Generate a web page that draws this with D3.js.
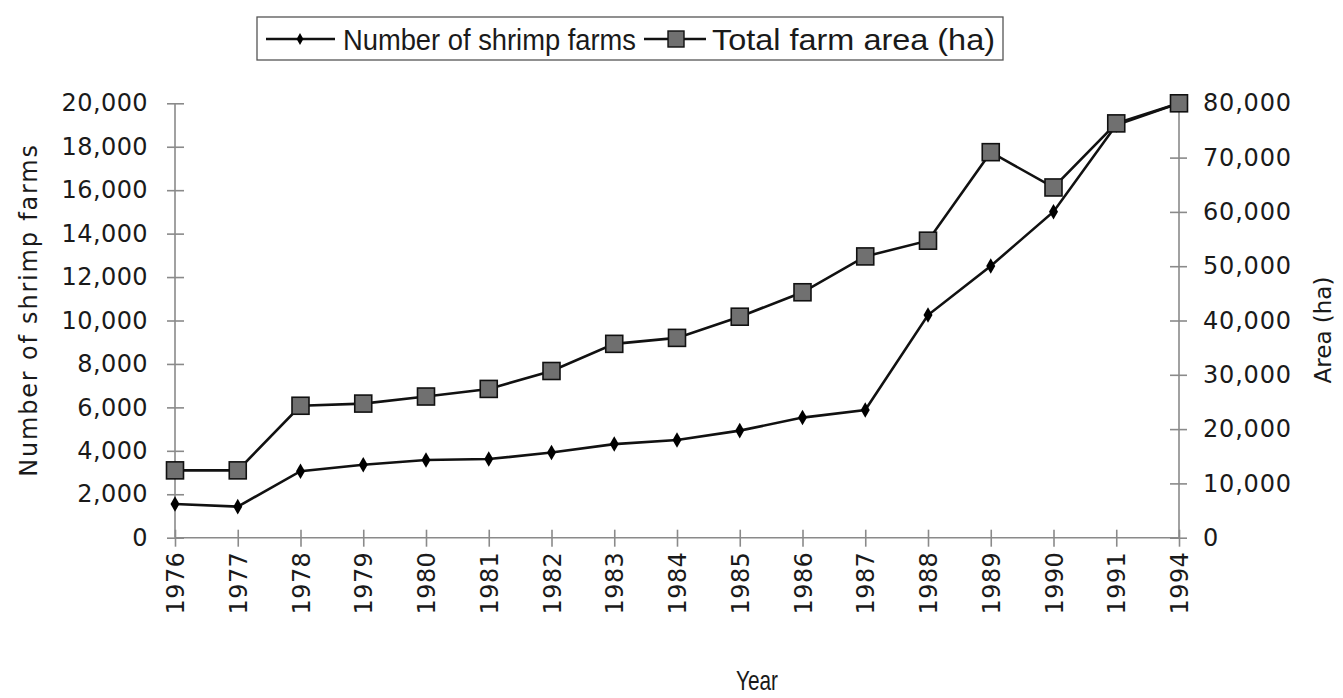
<!DOCTYPE html>
<html>
<head>
<meta charset="utf-8">
<script src="https://cdn.jsdelivr.net/npm/d3@7/dist/d3.min.js"></script>
<style>
  html, body { margin: 0; padding: 0; background: #fff; }
  svg { display: block; }
</style>
</head>
<body>
<svg id="chart" width="1343" height="698"></svg>
<script>
// Shrimp farming growth, 1976–1994
const years = ["1976","1977","1978","1979","1980","1981","1982","1983","1984",
               "1985","1986","1987","1988","1989","1990","1991","1994"];
const farmCounts = [1550, 1430, 3060, 3360, 3580, 3620, 3920, 4310, 4500,
                    4930, 5530, 5880, 10250, 12510, 15010, 19000, 20000];
const farmArea = [12400, 12400, 24300, 24700, 26000, 27400, 30700, 35700, 36800,
                  40700, 45200, 51800, 54700, 71000, 64500, 76300, 80000];
const leftTicks = [0, 2000, 4000, 6000, 8000, 10000, 12000, 14000, 16000, 18000, 20000];
const rightTicks = [0, 10000, 20000, 30000, 40000, 50000, 60000, 70000, 80000];
const seriesNames = ["Number of shrimp farms", "Total farm area (ha)"];

const svg = d3.select("#chart");
const plot = { left: 175, right: 1179, top: 103.3, bottom: 537.7 };
const axisColor = "#8a8a8a";
const tickFont = "'DejaVu Sans', Verdana, sans-serif";
const narrowFont = "'Liberation Sans Narrow', 'Arial Narrow', 'Liberation Sans', Arial, sans-serif";

const x = d3.scalePoint().domain(years).range([plot.left, plot.right]);
const yL = d3.scaleLinear().domain([0, 20000]).range([plot.bottom, plot.top]);
const yR = d3.scaleLinear().domain([0, 80000]).range([plot.bottom, plot.top]);
const fmt = d3.format(",");

// ---- axes ----
const gLeft = svg.append("g")
  .attr("transform", `translate(${plot.left},0)`)
  .call(d3.axisLeft(yL).tickValues(leftTicks).tickFormat(fmt).tickSize(8));
gLeft.selectAll(".tick line").attr("x1", -8).attr("x2", 9);
gLeft.selectAll(".tick text").attr("x", -27)
  .style("font-family", tickFont).style("font-size", "24px")
  .style("letter-spacing", "0.4px").attr("fill", "#1a1a1a");

const gRight = svg.append("g")
  .attr("transform", `translate(${plot.right},0)`)
  .call(d3.axisRight(yR).tickValues(rightTicks).tickFormat(fmt).tickSize(8));
gRight.selectAll(".tick line").attr("x1", -9).attr("x2", 8);
gRight.selectAll(".tick text").attr("x", 24)
  .style("font-family", tickFont).style("font-size", "24px")
  .style("letter-spacing", "0.8px").attr("fill", "#1a1a1a");

const gBottom = svg.append("g")
  .attr("transform", `translate(0,${plot.bottom})`)
  .call(d3.axisBottom(x).tickSize(8));
gBottom.selectAll(".tick line").attr("y1", -8).attr("y2", 9);
gBottom.selectAll(".tick text")
  .attr("transform", "translate(0,14) rotate(-90)")
  .attr("x", 0).attr("y", 0).attr("dy", "0.36em")
  .style("text-anchor", "end")
  .style("font-family", tickFont).style("font-size", "24px")
  .style("letter-spacing", "0.4px").attr("fill", "#1a1a1a");

[gLeft, gRight, gBottom].forEach(g => {
  g.select(".domain").attr("stroke", axisColor).attr("stroke-width", 1.6);
  g.selectAll(".tick line").attr("stroke", axisColor).attr("stroke-width", 1.6);
});
// plain axis lines without end caps
gLeft.select(".domain").attr("d", `M0,${plot.top}V${plot.bottom}`);
gRight.select(".domain").attr("d", `M0,${plot.top}V${plot.bottom}`);
gBottom.select(".domain").attr("d", `M${plot.left},0H${plot.right}`);

// ---- axis titles ----
svg.append("text")
  .attr("transform", `translate(37,310) rotate(-90)`)
  .attr("text-anchor", "middle")
  .style("font-family", tickFont).style("font-size", "24px")
  .style("letter-spacing", "1.8px").attr("fill", "#1a1a1a")
  .text("Number of shrimp farms");

svg.append("text")
  .attr("transform", `translate(1331,330) rotate(-90)`)
  .attr("text-anchor", "middle")
  .style("font-family", tickFont).style("font-size", "23px")
  .attr("fill", "#1a1a1a")
  .text("Area (ha)");

svg.append("text")
  .attr("x", 736).attr("y", 690)
  .attr("textLength", 42).attr("lengthAdjust", "spacingAndGlyphs")
  .style("font-family", narrowFont).style("font-size", "28px")
  .style("font-weight", "500")
  .attr("fill", "#1a1a1a")
  .text("Year");

// ---- series ----
const lineFarms = d3.line().x((d, i) => x(years[i])).y(d => yL(d));
const lineArea = d3.line().x((d, i) => x(years[i])).y(d => yR(d));

svg.append("path").datum(farmCounts)
  .attr("d", lineFarms).attr("fill", "none")
  .attr("stroke", "#111").attr("stroke-width", 2.6);

const diamond = d3.symbol().type(d3.symbolDiamond).size(70);
svg.selectAll(".farm-pt").data(farmCounts).enter().append("path")
  .attr("class", "farm-pt")
  .attr("d", diamond)
  .attr("transform", (d, i) => `translate(${x(years[i])},${yL(d)})`)
  .attr("fill", "#000");

svg.append("path").datum(farmArea)
  .attr("d", lineArea).attr("fill", "none")
  .attr("stroke", "#111").attr("stroke-width", 2.6);

const sq = 17;
svg.selectAll(".area-pt").data(farmArea).enter().append("rect")
  .attr("class", "area-pt")
  .attr("x", (d, i) => x(years[i]) - sq / 2)
  .attr("y", d => yR(d) - sq / 2)
  .attr("width", sq).attr("height", sq)
  .attr("fill", "#707070").attr("stroke", "#111").attr("stroke-width", 1.6);

// ---- legend ----
const lg = svg.append("g");
lg.append("rect")
  .attr("x", 257).attr("y", 17).attr("width", 746).attr("height", 43)
  .attr("fill", "#fff").attr("stroke", "#555").attr("stroke-width", 1.3);

lg.append("line").attr("x1", 266).attr("x2", 335).attr("y1", 39).attr("y2", 39)
  .attr("stroke", "#111").attr("stroke-width", 2.4);
lg.append("path").attr("d", d3.symbol().type(d3.symbolDiamond).size(40))
  .attr("transform", "translate(300,39)").attr("fill", "#000");
lg.append("text").attr("x", 343).attr("y", 50)
  .attr("textLength", 293).attr("lengthAdjust", "spacingAndGlyphs")
  .style("font-family", narrowFont).style("font-size", "30px")
  .attr("fill", "#1a1a1a").text(seriesNames[0]);

lg.append("line").attr("x1", 644).attr("x2", 706).attr("y1", 39).attr("y2", 39)
  .attr("stroke", "#111").attr("stroke-width", 2.4);
lg.append("rect").attr("x", 668).attr("y", 31).attr("width", 16).attr("height", 16)
  .attr("fill", "#707070").attr("stroke", "#111").attr("stroke-width", 1.4);
lg.append("text").attr("x", 712).attr("y", 50)
  .attr("textLength", 283).attr("lengthAdjust", "spacingAndGlyphs")
  .style("font-family", narrowFont).style("font-size", "30px")
  .attr("fill", "#1a1a1a").text(seriesNames[1]);
</script>
</body>
</html>
